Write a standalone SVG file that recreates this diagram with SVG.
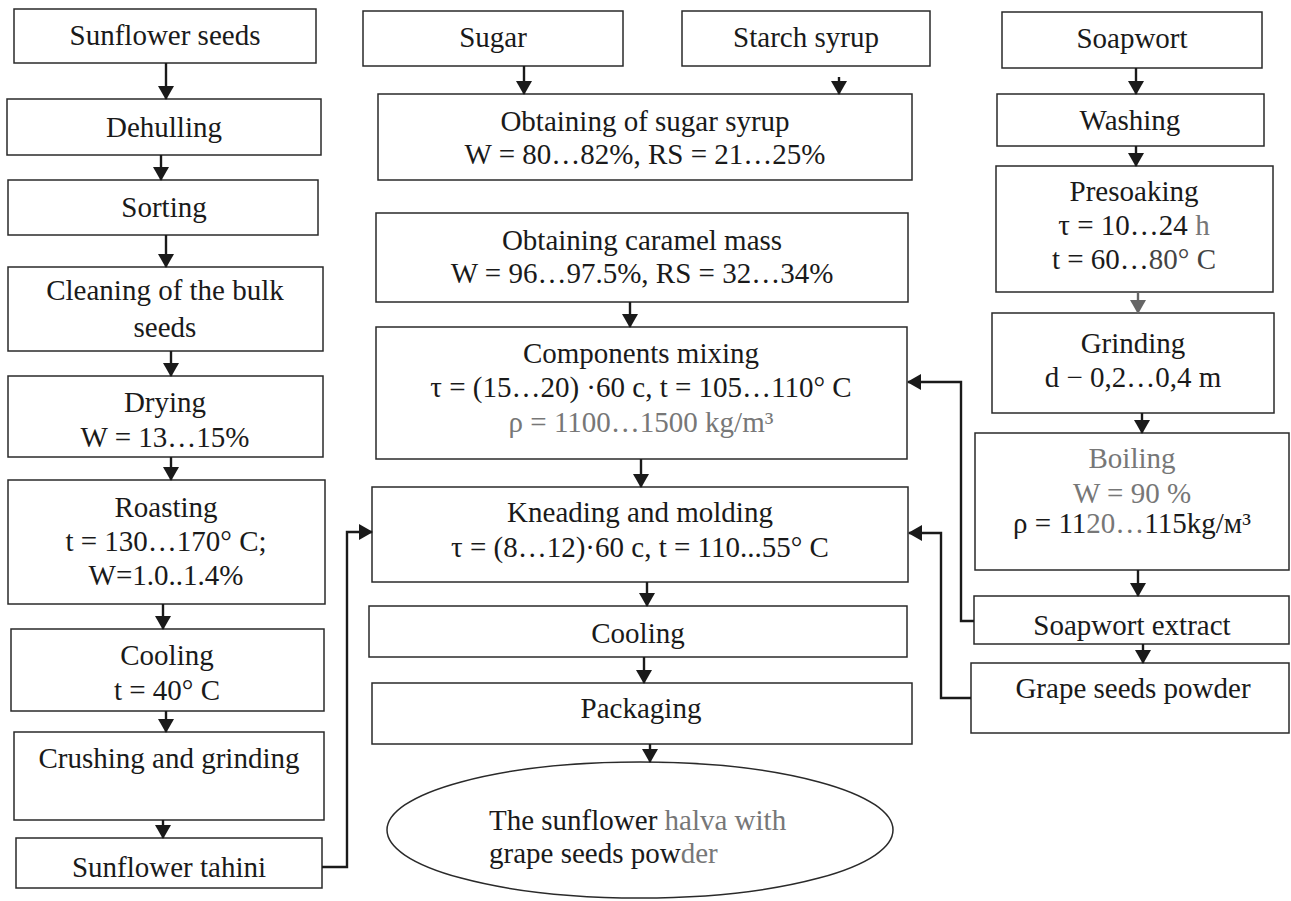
<svg xmlns="http://www.w3.org/2000/svg" width="1291" height="901" viewBox="0 0 1291 901">
<defs>
<marker id="ah" markerUnits="userSpaceOnUse" markerWidth="14" markerHeight="16" viewBox="0 0 14 16" refX="13" refY="8" orient="auto">
<path d="M0,0 L14,8 L0,16 z" fill="#1a1a1a"/>
</marker>
<marker id="ahg" markerUnits="userSpaceOnUse" markerWidth="14" markerHeight="16" viewBox="0 0 14 16" refX="13" refY="8" orient="auto">
<path d="M0,0 L14,8 L0,16 z" fill="#666"/>
</marker>
<style>
rect.b, ellipse.b { fill: #fff; stroke: #2a2a2a; stroke-width: 1.5; }
text { font-size: 29px; fill: #1a1a1a; text-anchor: middle; }
text.l { text-anchor: start; }
.g { fill: #777; }
.c { fill: none; stroke: #1a1a1a; stroke-width: 2.4; marker-end: url(#ah); }
.cg { fill: none; stroke: #666; stroke-width: 2.4; marker-end: url(#ahg); }
</style>
</defs>

<g font-family="'Liberation Serif', 'DejaVu Serif', serif">
<!-- Left column -->
<g id="n-sunflower-seeds"><rect class="b" x="14" y="9" width="302" height="54"/><text x="165" y="45">Sunflower seeds</text></g>
<g id="n-dehulling"><rect class="b" x="7" y="99" width="314" height="56"/><text x="164" y="137">Dehulling</text></g>
<g id="n-sorting"><rect class="b" x="8" y="180" width="310" height="55"/><text x="164" y="217">Sorting</text></g>
<g id="n-cleaning"><rect class="b" x="8" y="267" width="315" height="84"/><text x="165" y="300">Cleaning of the bulk</text><text x="165" y="337">seeds</text></g>
<g id="n-drying"><rect class="b" x="8" y="376" width="315" height="81"/><text x="165" y="412">Drying</text><text x="165" y="447">W = 13…15%</text></g>
<g id="n-roasting"><rect class="b" x="8" y="480" width="317" height="124"/><text x="166" y="517">Roasting</text><text x="166" y="551">t = 130…170° C;</text><text x="166" y="585">W=1.0..1.4%</text></g>
<g id="n-cooling-left"><rect class="b" x="11" y="629" width="313" height="82"/><text x="167" y="665">Cooling</text><text x="167" y="700">t = 40° C</text></g>
<g id="n-crushing"><rect class="b" x="14" y="732" width="310" height="88"/><text x="169" y="768">Crushing and grinding</text></g>
<g id="n-tahini"><rect class="b" x="16" y="838" width="306" height="50"/><text x="169" y="877">Sunflower tahini</text></g>

<!-- Middle column -->
<g id="n-sugar"><rect class="b" x="363" y="11" width="260" height="55"/><text x="493" y="47">Sugar</text></g>
<g id="n-starch"><rect class="b" x="682" y="11" width="248" height="55"/><text x="806" y="47">Starch syrup</text></g>
<g id="n-sugar-syrup"><rect class="b" x="378" y="94" width="534" height="86"/><text x="645" y="131">Obtaining of sugar syrup</text><text x="645" y="164">W = 80…82%, RS = 21…25%</text></g>
<g id="n-caramel"><rect class="b" x="376" y="213" width="532" height="89"/><text x="642" y="250">Obtaining caramel mass</text><text x="642" y="283">W = 96…97.5%, RS = 32…34%</text></g>
<g id="n-mixing"><rect class="b" x="376" y="327" width="531" height="132"/><text x="641" y="363">Components mixing</text><text x="641" y="397">τ = (15…20) ·60 c, t = 105…110° C</text><text x="641" y="432" class="g">ρ = 1100…1500 kg/m³</text></g>
<g id="n-kneading"><rect class="b" x="372" y="487" width="536" height="95"/><text x="640" y="522">Kneading and molding</text><text x="640" y="557">τ = (8…12)·60 c, t = 110...55° C</text></g>
<g id="n-cooling-mid"><rect class="b" x="369" y="606" width="538" height="51"/><text x="638" y="643">Cooling</text></g>
<g id="n-packaging"><rect class="b" x="372" y="683" width="540" height="61"/><text x="641" y="718">Packaging</text></g>
<g id="n-halva"><ellipse class="b" cx="640" cy="830" rx="253" ry="68"/><text class="l" x="489" y="830">The sunflower <tspan class="g">halva with</tspan></text><text class="l" x="489" y="863">grape seeds pow<tspan class="g">der</tspan></text></g>

<!-- Right column -->
<g id="n-soapwort"><rect class="b" x="1002" y="12" width="260" height="56"/><text x="1132" y="48">Soapwort</text></g>
<g id="n-washing"><rect class="b" x="997" y="94" width="267" height="52"/><text x="1130" y="130">Washing</text></g>
<g id="n-presoaking"><rect class="b" x="996" y="166" width="277" height="126"/><text x="1134" y="201">Presoaking</text><text x="1134" y="235">τ = 10…24 <tspan class="g">h</tspan></text><text x="1134" y="269">t = 60…<tspan fill="#444">80° C</tspan></text></g>
<g id="n-grinding"><rect class="b" x="992" y="313" width="282" height="100"/><text x="1133" y="353">Grinding</text><text x="1133" y="387">d − 0,2…0,4 m</text></g>
<g id="n-boiling"><rect class="b" x="975" y="433" width="314" height="137"/><text x="1132" y="468" class="g">Boiling</text><text x="1132" y="503" class="g">W = 90 %</text><text x="1132" y="533">ρ = 11<tspan class="g">20…</tspan>115kg/м³</text></g>
<g id="n-extract"><rect class="b" x="974" y="596" width="315" height="48"/><text x="1132" y="635" fill="#333">Soapwort extract</text></g>
<g id="n-grape"><rect class="b" x="971" y="663" width="318" height="70"/><text x="1133" y="698">Grape seeds powder</text></g>
</g>

<!-- Connectors -->
<g id="connectors">
<line class="c" x1="166" y1="63" x2="166" y2="99"/>
<line class="c" x1="161" y1="155" x2="161" y2="180"/>
<line class="c" x1="166" y1="235" x2="166" y2="267"/>
<line class="c" x1="171" y1="351" x2="171" y2="376"/>
<line class="c" x1="171" y1="457" x2="171" y2="480"/>
<line class="c" x1="163" y1="604" x2="163" y2="629"/>
<line class="c" x1="166" y1="711" x2="166" y2="732"/>
<line class="c" x1="163" y1="820" x2="163" y2="838"/>
<line class="c" x1="524" y1="66" x2="524" y2="94"/>
<line class="c" x1="839" y1="77" x2="839" y2="94"/>
<line class="c" x1="630" y1="302" x2="630" y2="327"/>
<line class="c" x1="641" y1="459" x2="641" y2="487"/>
<line class="c" x1="647" y1="582" x2="647" y2="606"/>
<line class="c" x1="644" y1="657" x2="644" y2="683"/>
<line class="c" x1="650" y1="744" x2="650" y2="762"/>
<line class="c" x1="1136" y1="68" x2="1136" y2="94"/>
<line class="c" x1="1136" y1="146" x2="1136" y2="166"/>
<line class="cg" x1="1138" y1="292" x2="1138" y2="313"/>
<line class="c" x1="1142" y1="413" x2="1142" y2="433"/>
<line class="c" x1="1138" y1="570" x2="1138" y2="596"/>
<line class="c" x1="1143" y1="644" x2="1143" y2="663"/>
<path class="c" d="M322,867 H347 V532 H372"/>
<path class="c" d="M974,621 H961 V382 H908"/>
<path class="c" d="M971,698 H941 V533 H909"/>
</g>
</svg>
